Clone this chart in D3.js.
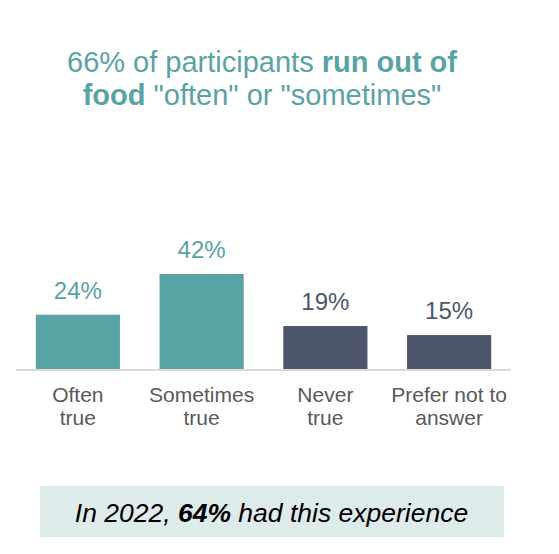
<!DOCTYPE html>
<html>
<head>
<meta charset="utf-8">
<script src="https://cdn.jsdelivr.net/npm/d3@7"></script>
<style>
  body { margin: 0; background: #fff; }
  svg { display: block; font-family: "Liberation Sans", Arial, sans-serif; }
</style>
</head>
<body>
<div id="chart"></div>
<script>
// data
const categories = [["Often", "true"], ["Sometimes", "true"], ["Never", "true"], ["Prefer not to", "answer"]]
const values = [24, 42, 19, 15]
const barColors = ["#59a3a5", "#59a3a5", "#4e566a", "#4e566a"]

const width = 559, height = 554
const teal = "#59a3a5"

const svg = d3.select("#chart").append("svg").attr("width", width).attr("height", height)

// title
const title = svg.append("text").attr("text-anchor", "middle").attr("fill", teal).attr("font-size", 29)
const t1 = title.append("tspan").attr("x", 262).attr("y", 72)
t1.append("tspan").text("66% of participants ")
t1.append("tspan").attr("font-weight", "bold").text("run out of")
const t2 = title.append("tspan").attr("x", 262).attr("y", 105)
t2.append("tspan").attr("font-weight", "bold").text("food")
t2.append("tspan").text(' "often" or "sometimes"')

// scales
const x = d3.scaleBand().domain(d3.range(values.length)).range([16, 511]).paddingInner(0.32).paddingOuter(0.16)
const y = d3.scaleLinear().domain([0, 42]).range([369, 274])

// bars
svg.selectAll("rect.bar").data(values).join("rect").attr("class", "bar")
  .attr("x", (d, i) => x(i)).attr("width", x.bandwidth())
  .attr("y", d => y(d)).attr("height", d => y(0) - y(d))
  .attr("fill", (d, i) => barColors[i])

// baseline
svg.append("line").attr("x1", 16).attr("x2", 511).attr("y1", y(0) + 1).attr("y2", y(0) + 1)
  .attr("stroke", "#d9d9d9").attr("stroke-width", 2)

// value labels
svg.selectAll("text.val").data(values).join("text").attr("class", "val")
  .attr("x", (d, i) => x(i) + x.bandwidth() / 2).attr("y", d => y(d) - 16)
  .attr("text-anchor", "middle").attr("font-size", 24)
  .attr("fill", (d, i) => barColors[i])
  .text(d => d + "%")

// category labels
const cat = svg.selectAll("text.cat").data(categories).join("text").attr("class", "cat")
  .attr("text-anchor", "middle").attr("font-size", 21).attr("fill", "#595959")
cat.each(function (d, i) {
  const cx = x(i) + x.bandwidth() / 2
  d3.select(this).selectAll("tspan").data(d).join("tspan")
    .attr("x", cx).attr("y", (s, j) => 402 + j * 22.5).text(s => s)
})

// footer box
svg.append("rect").attr("x", 40).attr("y", 486).attr("width", 464).attr("height", 51).attr("fill", "#ddebeb")
const foot = svg.append("text").attr("x", 271.5).attr("y", 522).attr("text-anchor", "middle")
  .attr("font-size", 26.5).attr("font-style", "italic").attr("fill", "#000")
foot.append("tspan").text("In 2022, ")
foot.append("tspan").attr("font-weight", "bold").text("64%")
foot.append("tspan").text(" had this experience")
</script>
</body>
</html>
